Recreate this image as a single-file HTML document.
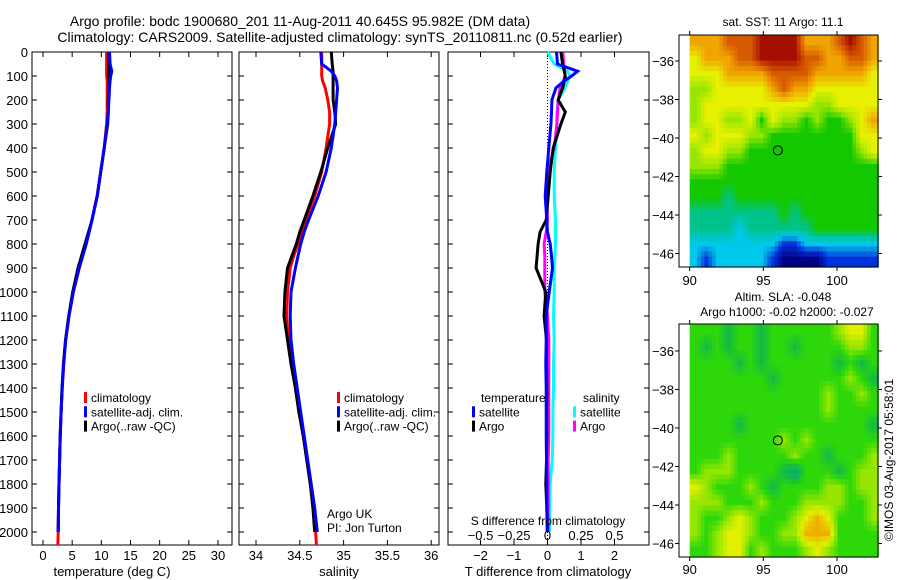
<!DOCTYPE html>
<html><head><meta charset="utf-8"><style>
html,body{margin:0;padding:0;background:#fff;}
svg{display:block;font-family:"Liberation Sans",sans-serif;}
</style></head><body>
<svg id="fig" width="900" height="580" viewBox="0 0 900 580" xmlns="http://www.w3.org/2000/svg">
<text x="300" y="26" font-size="14" text-anchor="middle">Argo profile: bodc 1900680_201 11-Aug-2011 40.645S 95.982E (DM data)</text>
<text x="340" y="42" font-size="14" text-anchor="middle">Climatology: CARS2009. Satellite-adjusted climatology: synTS_20110811.nc (0.52d earlier)</text>
<g id="g"></g>
</svg>
<script>
const depths=[0,50,80,100,120,150,200,250,300,400,500,600,700,750,800,850,900,1000,1100,1200,1300,1400,1500,1600,1700,1800,1900,2000];
const tArgo=[11.3,11.3,11.3,11.3,11.3,11.3,11.2,11.2,11.1,10.5,9.9,9.3,8.4,7.8,7.2,6.6,6.0,5.1,4.4,3.85,3.5,3.25,3.1,2.95,2.85,2.75,2.65,2.6];
const tClim=[10.9,10.9,10.9,10.9,11.0,11.0,11.0,11.0,10.9,10.5,9.9,9.3,8.4,7.9,7.4,6.8,6.2,5.2,4.45,3.9,3.55,3.3,3.1,2.95,2.85,2.75,2.65,2.6];
const tSat=[11.4,11.5,11.8,11.6,11.5,11.4,11.3,11.2,11.0,10.5,9.9,9.3,8.4,7.9,7.4,6.8,6.2,5.2,4.45,3.9,3.55,3.3,3.1,2.95,2.85,2.75,2.65,2.6];
const sArgo=[34.86,34.87,34.88,34.88,34.88,34.88,34.88,34.90,34.91,34.82,34.74,34.65,34.55,34.50,34.46,34.41,34.36,34.33,34.32,34.36,34.40,34.45,34.49,34.54,34.58,34.62,34.65,34.67];
const sClim=[34.75,34.75,34.75,34.75,34.76,34.79,34.82,34.84,34.84,34.80,34.75,34.67,34.57,34.52,34.48,34.43,34.39,34.36,34.35,34.37,34.41,34.45,34.49,34.54,34.58,34.62,34.66,34.68];
const sSat=[34.74,34.75,34.86,34.90,34.92,34.93,34.92,34.91,34.90,34.86,34.80,34.71,34.60,34.55,34.51,34.48,34.45,34.40,34.39,34.40,34.43,34.47,34.51,34.55,34.59,34.63,34.67,34.70];
const dTSat=[0.27,0.3,0.9,0.72,0.5,0.25,0.13,0.12,0.1,0.04,-0.02,-0.07,-0.02,0,0.08,0.12,0.15,0.05,-0.04,-0.04,-0.05,-0.04,-0.04,-0.04,-0.03,-0.02,-0.02,-0.01];
const dTArgo=[0.4,0.45,0.5,0.53,0.5,0.45,0.32,0.53,0.4,0.17,0.08,0.02,-0.04,-0.22,-0.28,-0.31,-0.34,-0.05,-0.1,-0.03,-0.03,-0.02,-0.02,-0.02,-0.03,-0.05,-0.02,0];
const dSSat=[0,0.05,0.15,0.17,0.15,0.13,0.08,0.07,0.07,0.06,0.05,0.05,0.06,0.06,0.06,0.055,0.05,0.05,0.045,0.05,0.045,0.045,0.04,0.04,0.035,0.02,0.015,0.015];
const dSArgo=[0.115,0.12,0.13,0.13,0.12,0.095,0.08,0.075,0.07,0.05,0,-0.005,0,-0.01,-0.025,-0.02,-0.02,-0.02,0,0.01,0.01,0.01,0.01,0.01,0.005,0.005,0.005,0.005];
const depthTicks=[0,100,200,300,400,500,600,700,800,900,1000,1100,1200,1300,1400,1500,1600,1700,1800,1900,2000];
const tTicks=[0,5,10,15,20,25,30];
const sTicks=[34,34.5,35,35.5,36];
const sTickLabels=["34","34.5","35","35.5","36"];
const dTTicks=[-2,-1,0,1,2];
const dSTicks=[-0.5,-0.25,0,0.25,0.5];
const dSTickLabels=["\u22120.5","\u22120.25","0","0.25","0.5"];
const lonTicks=[90,95,100];
const latTicks=[-36,-38,-40,-42,-44,-46];
const argoLon=95.982, argoLat=-40.645;
const sstGrid=["77788899997778987","67778899998877887","66677778888777776","55666667877666666","56666666666556666","56655646554544567","65666554444444466","56655444444444456","55544444444444444","44444444444444444","44434444444444444","33333333434444444","33332333333444444","22222222112222222","21222221000011111"];
const slaGrid=["33323323333334553","32323323323333443","33332323333332323","33333332333333432","33333333333343343","33333333333343333","33332333333333332","33333333434333333","33343333343323334","34443333213332344","54333432333344344","44433343334444334","43345433345653334","43455433446663333","33455343334543333"];

const NS="http://www.w3.org/2000/svg";
const G=document.getElementById('g');
function el(tag,attrs,parent){const e=document.createElementNS(NS,tag);for(const k in attrs)e.setAttribute(k,attrs[k]);(parent||G).appendChild(e);return e;}
function txt(x,y,s,size,anchor,parent){const t=el('text',{x:x,y:y,'font-size':size,'text-anchor':anchor||'middle'},parent);t.textContent=s;return t;}

const TOP=52, BOT=545;
const yD=d=>TOP+d*0.24;
const P1={l:32,r:232}, P2={l:239,r:439}, P3={l:448,r:649};
const xT=v=>43+v*5.833;
const xS=v=>256+(v-34)*87.6;
const xDT=v=>547.5+v*33.5;
const xDS=v=>547.5+v*134;

function frame(p,name){
  const g=el('g',{});
  
  
  el('rect',{x:p.l,y:TOP,width:p.r-p.l,height:BOT-TOP,fill:'none',stroke:'#000','stroke-width':1},g);
  depthTicks.forEach(d=>{const y=yD(d);
    el('line',{x1:p.l,y1:y,x2:p.l+5,y2:y,stroke:'#000'},g);
    el('line',{x1:p.r,y1:y,x2:p.r-5,y2:y,stroke:'#000'},g);});
  return g;
}
function series(xf,vals,color,name,parent,extra){
  const pts=depths.map((d,i)=>xf(vals[i]).toFixed(1)+','+yD(d).toFixed(1));
  if(extra)pts.push(extra);
  const pl=el('polyline',{points:pts.join(' '),fill:'none',stroke:color,'stroke-width':3,'stroke-linejoin':'miter'},parent);
  
  
}
function legend(x,y,items,parent){
  items.forEach((it,i)=>{
    el('rect',{x:x,y:y+i*14.3-10,width:3,height:11,fill:it[1]},parent);
    const t=txt(x+7,y+i*14.3,it[0],12,'start',parent);
    
    
  });
}

const g1=frame(P1,'temperature-panel');
depthTicks.forEach(d=>{txt(28,yD(d)+5,String(d),13,'end',g1);});
tTicks.forEach(v=>{const x=xT(v);
  el('line',{x1:x,y1:BOT,x2:x,y2:BOT-5,stroke:'#000'},g1);
  el('line',{x1:x,y1:TOP,x2:x,y2:TOP+5,stroke:'#000'},g1);
  txt(x,BOT+15,String(v),13,'middle',g1);});
txt(112,576,'temperature (deg C)',13,'middle',g1);
series(xT,tClim,'#f00','temp-climatology',g1,xT(2.55)+','+BOT);
series(xT,tArgo,'#000','temp-argo',g1);
series(xT,tSat,'#00f','temp-satellite-adj',g1);
legend(84,402,[['climatology','#f00','clim'],['satellite-adj. clim.','#00f','sat'],['Argo(..raw -QC)','#000','argo']],g1);

const g2=frame(P2,'salinity-panel');
sTicks.forEach((v,i)=>{const x=xS(v);
  el('line',{x1:x,y1:BOT,x2:x,y2:BOT-5,stroke:'#000'},g2);
  el('line',{x1:x,y1:TOP,x2:x,y2:TOP+5,stroke:'#000'},g2);
  txt(x,BOT+15,sTickLabels[i],13,'middle',g2);});
txt(339,576,'salinity',13,'middle',g2);
series(xS,sClim,'#f00','sal-climatology',g2,xS(34.69)+','+BOT);
series(xS,sArgo,'#000','sal-argo',g2);
series(xS,sSat,'#00f','sal-satellite-adj',g2);
legend(337,402,[['climatology','#f00','clim2'],['satellite-adj. clim.','#00f','sat2'],['Argo(..raw -QC)','#000','argo2']],g2);
txt(327,518,'Argo UK',12,'start',g2);
txt(327,532,'PI: Jon Turton',12,'start',g2);

const g3=frame(P3,'difference-panel');
el('line',{x1:xDT(0),y1:TOP,x2:xDT(0),y2:BOT,stroke:'#000','stroke-dasharray':'1,2','stroke-width':1},g3);
dTTicks.forEach(v=>{const x=xDT(v);
  el('line',{x1:x,y1:BOT,x2:x,y2:BOT-5,stroke:'#000'},g3);
  el('line',{x1:x,y1:TOP,x2:x,y2:TOP+5,stroke:'#000'},g3);
  txt(x,BOT+15,v<0?'\u2212'+(-v):String(v),13,'middle',g3);});
series(xDS,dSSat,'#0ff','sdiff-satellite',g3);
series(xDS,dSArgo,'#f0f','sdiff-argo',g3);
series(xDT,dTArgo,'#000','tdiff-argo',g3);
series(xDT,dTSat,'#00f','tdiff-satellite',g3);
dSTicks.forEach((v,i)=>{txt(xDS(v),540,dSTickLabels[i],13,'middle',g3);});
txt(548,525,'S difference from climatology',12,'middle',g3);
txt(548,576,'T difference from climatology',13,'middle',g3);
txt(481,402,'temperature',12,'start',g3);
legend(472,416.3,[['satellite','#00f','tsat'],['Argo','#000','targo']],g3);
txt(583,402,'salinity',12,'start',g3);
legend(573,416.3,[['satellite','#0ff','ssat'],['Argo','#f0f','sargo']],g3);

const ML=679, MR=878, LON1=102.8;
const xLon=v=>689.7+(v-90)*14.73;
const jet=[[0,0,130],[0,50,220],[0,200,235],[0,195,140],[20,200,0],[150,230,0],[230,240,0],[240,165,0],[215,90,0],[165,15,0]];
const slaCol=[[0,215,205],[0,175,130],[20,185,70],[45,215,10],[150,230,0],[225,240,0],[240,175,0]];
function cmapAt(cm,v){v=Math.max(0,Math.min(cm.length-1,v));const i=Math.min(cm.length-2,Math.floor(v)),f=v-i;
  return cm[i].map((c,k)=>Math.round(c+(cm[i+1][k]-c)*f));}
function gridAt(grid,r,c){const R=grid.length,C=grid[0].length;
  r=Math.max(0,Math.min(R-1,r));c=Math.max(0,Math.min(C-1,c));
  const r0=Math.floor(r),c0=Math.floor(c),r1=Math.min(R-1,r0+1),c1=Math.min(C-1,c0+1),fr=r-r0,fc=c-c0;
  const v=(a,b)=>+grid[a][b];
  return v(r0,c0)*(1-fr)*(1-fc)+v(r0,c1)*(1-fr)*fc+v(r1,c0)*fr*(1-fc)+v(r1,c1)*fr*fc;}
function map(top,bot,latTop,latBot,grid,cmap,name,lonLabelY){
  const g=el('g',{});
  
  
  const yLat=v=>top+(latTop-v)*(bot-top)/(latTop-latBot);
  const rows=grid.length, cols=grid[0].length, sub=3;
  const cw=(LON1-90)/cols, ch=(latTop-latBot)/rows;
  for(let r=0;r<rows*sub;r++)for(let c=0;c<cols*sub;c++){
    const val=gridAt(grid,(r+0.5)/sub-0.5,(c+0.5)/sub-0.5), col=cmapAt(cmap,val);
    const x0=xLon(90+c*cw/sub), x1=xLon(90+(c+1)*cw/sub), y0=yLat(latTop-r*ch/sub), y1=yLat(latTop-(r+1)*ch/sub);
    const cell=el('rect',{x:x0.toFixed(1),y:y0.toFixed(1),width:(x1-x0+0.6).toFixed(1),height:(y1-y0+0.6).toFixed(1),fill:'rgb('+col.join(',')+')'},g);
    
    
  }
  el('rect',{x:ML,y:top,width:MR-ML,height:bot-top,fill:'none',stroke:'#000'},g);
  lonTicks.forEach(v=>{const x=xLon(v);
    el('line',{x1:x,y1:top,x2:x,y2:top-4,stroke:'#000'},g);
    el('line',{x1:x,y1:bot,x2:x,y2:bot+4,stroke:'#000'},g);
    txt(x,lonLabelY,String(v),13,'middle',g);});
  latTicks.forEach(v=>{const y=yLat(v);
    el('line',{x1:ML,y1:y,x2:ML-4,y2:y,stroke:'#000'},g);
    el('line',{x1:MR,y1:y,x2:MR+4,y2:y,stroke:'#000'},g);
    txt(674,y+5,'\u2212'+(-v),13,'end',g);});
  const c=el('circle',{cx:xLon(argoLon),cy:yLat(argoLat),r:4.5,fill:'none',stroke:'#000','stroke-width':1},g);
  
  
}
map(35,267,-34.65,-46.7,sstGrid,jet,'sst-map',285);
map(324,557,-34.6,-46.7,slaGrid,slaCol,'sla-map',574);
txt(783,26,'sat. SST: 11 Argo: 11.1',12,'middle');
txt(783,301,'Altim. SLA: -0.048',12,'middle');
txt(787,316,'Argo h1000: -0.02 h2000: -0.027',12,'middle');
const cr=txt(0,0,'\u00A9IMOS 03-Aug-2017 05:58:01',12,'middle');
cr.setAttribute('transform','translate(893,460) rotate(-90)');


</script>
</body></html>
